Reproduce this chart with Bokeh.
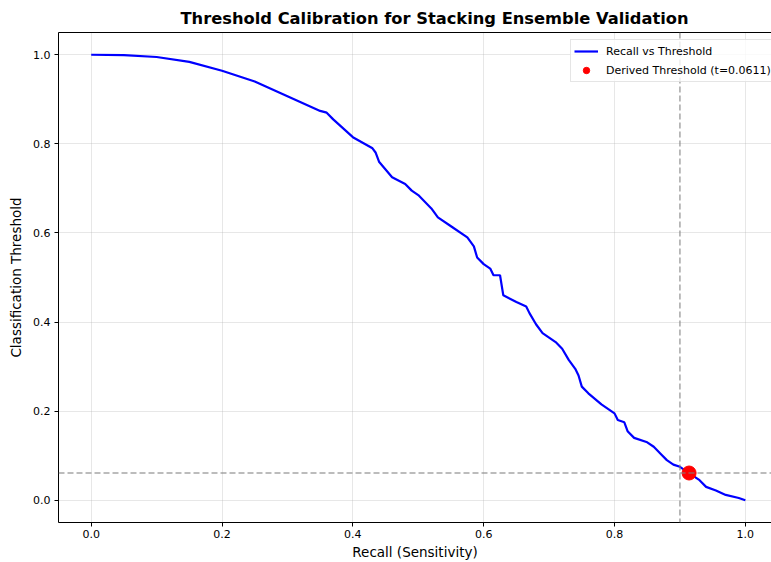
from bokeh.plotting import figure
from bokeh.models import Span, FixedTicker, LinearAxis, Range1d, Legend, LegendItem, CustomJSTickFormatter
from bokeh.embed import file_html
from bokeh.resources import INLINE

recall = [0.0, 0.05, 0.10, 0.15, 0.20, 0.25, 0.30, 0.35, 0.36, 0.37, 0.40, 0.43, 0.435,
          0.44, 0.46, 0.48, 0.49, 0.50, 0.52, 0.53, 0.55, 0.575, 0.585, 0.59, 0.60, 0.61,
          0.615, 0.625, 0.63, 0.65, 0.665, 0.67, 0.68, 0.69, 0.70, 0.71, 0.72, 0.73, 0.74,
          0.745, 0.75, 0.76, 0.78, 0.80, 0.805, 0.815, 0.82, 0.83, 0.85, 0.86, 0.87, 0.88,
          0.89, 0.90, 0.914, 0.93, 0.94, 0.955, 0.97, 0.99, 1.0]
threshold = [1.0, 0.999, 0.995, 0.984, 0.964, 0.94, 0.907, 0.874, 0.87, 0.855, 0.815, 0.79, 0.78,
             0.76, 0.725, 0.71, 0.695, 0.685, 0.655, 0.635, 0.615, 0.59, 0.57, 0.545, 0.53, 0.52,
             0.505, 0.505, 0.46, 0.445, 0.435, 0.42, 0.395, 0.375, 0.365, 0.355, 0.34, 0.315, 0.295,
             0.28, 0.255, 0.24, 0.215, 0.195, 0.18, 0.175, 0.155, 0.14, 0.13, 0.12, 0.105, 0.09,
             0.08, 0.075, 0.061, 0.045, 0.03, 0.022, 0.012, 0.005, 0.0]
target_recall = 0.90
derived_recall = [0.914]
derived_threshold = [0.0611]
ticks = [0.0, 0.2, 0.4, 0.6, 0.8, 1.0]

FONT = "DejaVu Sans"

p = figure(width=771, height=562, output_backend="svg", toolbar_location=None,
           x_range=Range1d(-0.05, 1.04), y_range=Range1d(-0.05, 1.05),
           min_border_left=58, min_border_right=0, min_border_top=32, min_border_bottom=38)
p.title.text = "Threshold Calibration for Stacking Ensemble Validation"
p.title.text_font = FONT
p.title.text_font_size = "16.3px"
p.title.text_font_style = "bold"
p.title.text_color = "black"
p.title.align = "left"
p.title.offset = 122

p.outline_line_color = None

for ax in (p.xaxis[0], p.yaxis[0]):
    ax.ticker = FixedTicker(ticks=ticks)
    ax.minor_tick_line_color = None
    ax.major_tick_out = 4
    ax.major_tick_in = 0
    ax.major_label_text_font = FONT
    ax.major_label_text_font_size = "11px"
    ax.major_label_text_color = "black"
    ax.axis_label_text_font = FONT
    ax.axis_label_text_font_size = "13.5px"
    ax.axis_label_text_font_style = "normal"
    ax.axis_label_text_color = "black"
    ax.axis_line_color = "black"
    ax.major_tick_line_color = "black"
p.xaxis.axis_label = "Recall (Sensitivity)"
p.yaxis.axis_label = "Classification Threshold"
p.xaxis.major_label_standoff = 3
p.yaxis.major_label_standoff = 4
p.xaxis.axis_label_standoff = 3
p.yaxis.axis_label_standoff = 6
fmt = CustomJSTickFormatter(code="return tick.toFixed(1);")
p.xaxis.formatter = fmt
p.yaxis.formatter = fmt

top = LinearAxis(major_tick_line_color=None, minor_tick_line_color=None,
                 major_label_text_font_size="0px", axis_line_color="black")
top.ticker = FixedTicker(ticks=[])
p.add_layout(top, "above")

p.grid.grid_line_color = "#b0b0b0"
p.grid.grid_line_alpha = 0.3
p.xgrid.ticker = FixedTicker(ticks=ticks)
p.ygrid.ticker = FixedTicker(ticks=ticks)

r_line = p.line(recall, threshold, line_color="blue", line_width=2.2)
p.add_layout(Span(location=target_recall, dimension="height", line_color="gray",
                  line_dash="6 3", line_width=1.5, line_alpha=0.7))
p.add_layout(Span(location=derived_threshold[0], dimension="width", line_color="gray",
                  line_dash="6 3", line_width=1.5, line_alpha=0.7))
r_pt = p.scatter(derived_recall, derived_threshold, size=14, color="red")

legend = Legend(items=[LegendItem(label="Recall vs Threshold", renderers=[r_line]),
                       LegendItem(label="Derived Threshold (t=0.0611)", renderers=[r_pt])],
                location=(512, 440))
legend.label_text_font = FONT
legend.label_text_font_size = "11px"
legend.label_text_color = "black"
legend.border_line_color = "#cccccc"
legend.background_fill_alpha = 0.8
legend.spacing = 3
legend.padding = 3
legend.margin = 0
legend.glyph_width = 24
legend.label_standoff = 8
legend.label_height = 16
legend.glyph_height = 16
p.add_layout(legend)

open("out.html", "w").write(file_html(p, INLINE))
